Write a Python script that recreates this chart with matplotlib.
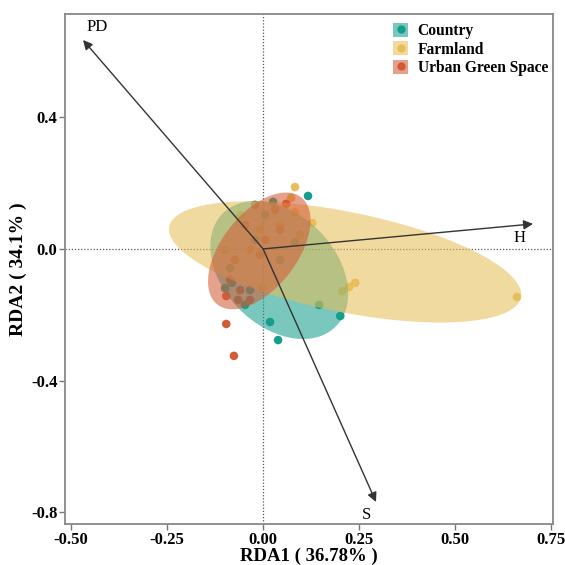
import numpy as np
import matplotlib
matplotlib.use('Agg')
import matplotlib.pyplot as plt
from matplotlib.patches import Patch, Polygon
from matplotlib.lines import Line2D

plt.rcParams['font.family'] = ['Liberation Serif', 'DejaVu Serif']

groups = ['Country', 'Farmland', 'Urban Green Space']
point_colors = ['#169E8D', '#E8BE58', '#D45A36']

# site scores (RDA1, RDA2)
country_x = [0.117, 0.026, 0.201, 0.146, 0.039, 0.018, -0.034, -0.081, -0.047, -0.086, -0.021, 0.083, 0.044, 0.005, -0.099]
country_y = [0.161, 0.143, -0.204, -0.170, -0.277, -0.222, -0.125, -0.103, -0.170, -0.058, 0.027, 0.021, -0.033, 0.103, -0.119]
farm_x = [0.083, 0.073, 0.128, 0.083, 0.206, 0.224, 0.240, 0.661, -0.008, -0.060, 0.044, -0.034, 0.096, -0.099, -0.003]
farm_y = [0.188, 0.155, 0.079, 0.112, -0.128, -0.116, -0.103, -0.146, 0.058, 0.103, 0.073, -0.003, 0.043, -0.003, -0.116]
urban_x = [0.060, -0.096, -0.096, -0.076, 0.031, -0.047, -0.073, -0.060, -0.034, -0.086, -0.008, 0.044, -0.021, -0.065, 0.005]
urban_y = [0.137, -0.143, -0.228, -0.325, 0.119, 0.073, -0.033, -0.125, -0.155, -0.094, -0.018, 0.058, 0.134, -0.155, 0.027]

# confidence ellipses: centre, semi-axis vectors (data units)
ell_center = [(0.042, -0.064), (0.2135, -0.0395), (-0.010, -0.006)]
ell_major = [(0.147, -0.172), (0.458, -0.108), (0.109, 0.163)]
ell_minor = [(0.103, 0.120), (-0.0260, -0.149), (0.077, -0.070)]

# environmental arrows
env_names = ['PD', 'H', 'S']
env_x = [-0.469, 0.703, 0.294]
env_y = [0.635, 0.076, -0.769]
env_lab_x = [-0.432, 0.669, 0.268]
env_lab_y = [0.675, 0.033, -0.809]

xs = [country_x, farm_x, urban_x]
ys = [country_y, farm_y, urban_y]

fig = plt.figure(figsize=(5.65, 5.65), dpi=100)
ax = fig.add_axes([65/565, 1-524/565, (553-65)/565, (524-14)/565])

ax.axhline(0, color='#555555', lw=0.9, ls=(0, (1, 1.5)), zorder=1)
ax.axvline(0, color='#555555', lw=0.9, ls=(0, (1, 1.5)), zorder=1)

for i in range(3):
    ax.scatter(xs[i], ys[i], s=38, color=point_colors[i], edgecolors='none', zorder=2)

t = np.linspace(0, 2*np.pi, 200)
for i in range(3):
    cx, cy = ell_center[i]
    ex = cx + ell_major[i][0]*np.cos(t) + ell_minor[i][0]*np.sin(t)
    ey = cy + ell_major[i][1]*np.cos(t) + ell_minor[i][1]*np.sin(t)
    ax.add_patch(Polygon(np.column_stack([ex, ey]), closed=True, facecolor=point_colors[i],
                         edgecolor='none', alpha=0.57, zorder=3))

for i in range(3):
    ax.annotate('', xy=(env_x[i], env_y[i]), xytext=(0, 0),
                arrowprops=dict(arrowstyle='-|>', color='#333333', lw=1.0,
                                mutation_scale=14, shrinkA=0, shrinkB=0), zorder=4)
    ax.text(env_lab_x[i], env_lab_y[i], env_names[i], fontsize=12, ha='center', va='center', zorder=5)

ax.set_xlim(-0.516, 0.755)
ax.set_ylim(-0.836, 0.714)
ax.set_xticks([-0.5, -0.25, 0, 0.25, 0.5, 0.75])
ax.set_xticklabels(['-0.50', '-0.25', '0.00', '0.25', '0.50', '0.75'])
ax.set_yticks([0.4, 0.0, -0.4, -0.8])
ax.set_yticklabels(['0.4', '0.0', '-0.4', '-0.8'])
for lab in ax.get_xticklabels() + ax.get_yticklabels():
    lab.set_fontweight('bold')
    lab.set_fontsize(12)
ax.tick_params(direction='out', length=4, width=1, color='#777777', pad=1.5)
for sp in ax.spines.values():
    sp.set_color('#888888')
    sp.set_linewidth(1.3)

ax.set_xlabel('RDA1 ( 36.78% )', fontsize=13.5, fontweight='bold', labelpad=0)
ax.set_ylabel('RDA2 ( 34.1% )', fontsize=14, fontweight='bold', labelpad=3)

handles = [(Patch(facecolor=c, alpha=0.57, edgecolor='none'),
            Line2D([], [], marker='o', ls='', color=c, markersize=5)) for c in point_colors]
ax.legend(handles, groups, loc='upper left', bbox_to_anchor=(385/565, 1-15/565),
          bbox_transform=fig.transFigure, frameon=False, handlelength=1.0, handleheight=1.0,
          handletextpad=0.6, labelspacing=0.15, borderpad=0,
          prop={'weight': 'bold', 'size': 11.2})

fig.savefig('out.png', dpi=100)
